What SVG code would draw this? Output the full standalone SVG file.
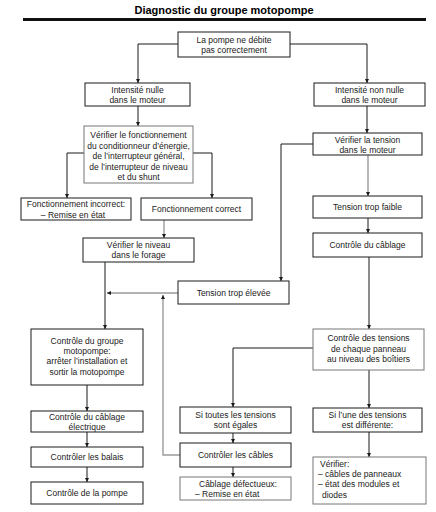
<svg xmlns="http://www.w3.org/2000/svg" width="436" height="512" viewBox="0 0 436 512">
<defs>
<style>
text{font-family:"Liberation Sans",Arial,sans-serif;font-size:8.5px;fill:#1a1a1a;text-anchor:middle}
.t{font-size:11px;font-weight:bold;fill:#000}
.l{text-anchor:start}
rect{fill:#fff;stroke:#1a1a1a;stroke-width:1}
rect.g{stroke:#777}
.c path{fill:none;stroke:#1a1a1a;stroke-width:1}
.c path.g{stroke:#9a9a9a;stroke-width:1.4}
</style>
<marker id="a" viewBox="0 0 6 6" refX="6" refY="3" markerWidth="4" markerHeight="4.5" orient="auto" markerUnits="userSpaceOnUse"><path d="M0,0 L6,3 L0,6 z" fill="#1a1a1a"/></marker>
<marker id="ag" viewBox="0 0 6 6" refX="6" refY="3" markerWidth="4" markerHeight="4.5" orient="auto" markerUnits="userSpaceOnUse"><path d="M0,0 L6,3 L0,6 z" fill="#1a1a1a"/></marker>
</defs>
<rect width="436" height="512" style="fill:#fff;stroke:none"/>
<g id="header">
<text class="t" x="224" y="14">Diagnostic du groupe motopompe</text>
<rect x="23" y="18" width="403" height="3" style="fill:#111;stroke:none"/>
</g>
<g class="c" id="connectors">
<path d="M178,44 H138 V83" marker-end="url(#a)"/>
<path d="M290,44 H367 V83" marker-end="url(#a)"/>
<path d="M138,106 V126" marker-end="url(#a)"/>
<path d="M367,106 V133" marker-end="url(#a)"/>
<path d="M84,153 H67 V198" marker-end="url(#a)"/>
<path d="M193,153 H212 V198" marker-end="url(#a)"/>
<path class="g" d="M164,220 V238" marker-end="url(#ag)"/>
<path d="M105,262 V329" marker-end="url(#a)"/>
<path class="g" d="M178,293 H107" marker-end="url(#ag)"/>
<path class="g" d="M180,455 H163 V295" marker-end="url(#ag)"/>
<path d="M313,144 H281 V281" marker-end="url(#a)"/>
<path class="g" d="M368,155 V196" marker-end="url(#ag)"/>
<path d="M368,218 V233" marker-end="url(#a)"/>
<path d="M369,257 V329" marker-end="url(#a)"/>
<path d="M313,348 H233 V407" marker-end="url(#a)"/>
<path d="M369,370 V408" marker-end="url(#a)"/>
<path d="M369,432 V457" marker-end="url(#a)"/>
<path d="M233,433 V443" marker-end="url(#a)"/>
<path d="M233,467 V477" marker-end="url(#a)"/>
<path d="M87,385 V411" marker-end="url(#a)"/>
<path d="M87,432 V447" marker-end="url(#a)"/>
<path d="M87,467 V482" marker-end="url(#a)"/>
</g>
<g id="n1"><rect x="178" y="32" width="112" height="25"/><text x="234" y="42.5">La pompe ne débite</text><text x="234" y="53">pas correctement</text></g>
<g id="n2"><rect x="85" y="83" width="105" height="23"/><text x="137.5" y="93">Intensité nulle</text><text x="137.5" y="103">dans le moteur</text></g>
<g id="n3"><rect x="314" y="83" width="111" height="23"/><text x="369.5" y="93">Intensité non nulle</text><text x="369.5" y="103">dans le moteur</text></g>
<g id="n4"><rect class="g" x="84" y="126" width="109" height="57"/><text x="138.5" y="138">Vérifier le fonctionnement</text><text x="138.5" y="148.5">du conditionneur d’énergie,</text><text x="138.5" y="159">de l’interrupteur général,</text><text x="138.5" y="169.5">de l’interrupteur de niveau</text><text x="138.5" y="180">et du shunt</text></g>
<g id="n5"><rect x="21" y="198" width="110" height="22"/><text x="76" y="207">Fonctionnement incorrect:</text><text x="73" y="217.5">– Remise en état</text></g>
<g id="n6"><rect x="141" y="198" width="111" height="22"/><text x="196.5" y="212">Fonctionnement correct</text></g>
<g id="n7"><rect x="83" y="238" width="111" height="24"/><text x="138.5" y="247.5">Vérifier le niveau</text><text x="138.5" y="258">dans le forage</text></g>
<g id="n8"><rect x="178" y="281" width="111" height="23"/><text x="233.5" y="295.5">Tension trop élevée</text></g>
<g id="n9"><rect x="313" y="133" width="109" height="22"/><text x="367.5" y="142.5">Vérifier la tension</text><text x="367.5" y="152.5">dans le moteur</text></g>
<g id="n10"><rect x="313" y="196" width="109" height="22"/><text x="367.5" y="210">Tension trop faible</text></g>
<g id="n11"><rect x="313" y="233" width="109" height="24"/><text x="367.5" y="248">Contrôle du câblage</text></g>
<g id="n12"><rect class="g" x="313" y="329" width="111" height="41"/><text x="368.5" y="341">Contrôle des tensions</text><text x="368.5" y="351.5">de chaque panneau</text><text x="368.5" y="362">au niveau des boîtiers</text></g>
<g id="n13"><rect x="31" y="329" width="112" height="56"/><text x="87" y="344">Contrôle du groupe</text><text x="87" y="354">motopompe:</text><text x="87" y="364">arrêter l’installation et</text><text x="87" y="374.5">sortir la motopompe</text></g>
<g id="n14"><rect x="31" y="411" width="112" height="21"/><text x="87" y="419.5">Contrôle du câblage</text><text x="87" y="429.5">électrique</text></g>
<g id="n15"><rect x="31" y="447" width="112" height="20"/><text x="87" y="460">Contrôler les balais</text></g>
<g id="n16"><rect x="31" y="482" width="112" height="22"/><text x="87" y="496">Contrôle de la pompe</text></g>
<g id="n17"><rect x="180" y="407" width="111" height="26"/><text x="235.5" y="417.5">Si toutes les tensions</text><text x="235.5" y="428">sont égales</text></g>
<g id="n18"><rect x="180" y="443" width="111" height="24"/><text x="235.5" y="458">Contrôler les câbles</text></g>
<g id="n19"><rect class="g" x="180" y="477" width="111" height="23"/><text x="238" y="487">Câblage défectueux:</text><text class="l" x="195" y="497">– Remise en état</text></g>
<g id="n20"><rect x="313" y="408" width="109" height="24"/><text x="367.5" y="417.5">Si l’une des tensions</text><text x="367.5" y="428">est différente:</text></g>
<g id="n21"><rect class="g" x="313" y="457" width="113" height="47"/><text class="l" x="320" y="467">Vérifier:</text><text class="l" x="318" y="477">– câbles de panneaux</text><text class="l" x="318" y="487">– état des modules et</text><text class="l" x="322" y="497.5">diodes</text></g>
</svg>
